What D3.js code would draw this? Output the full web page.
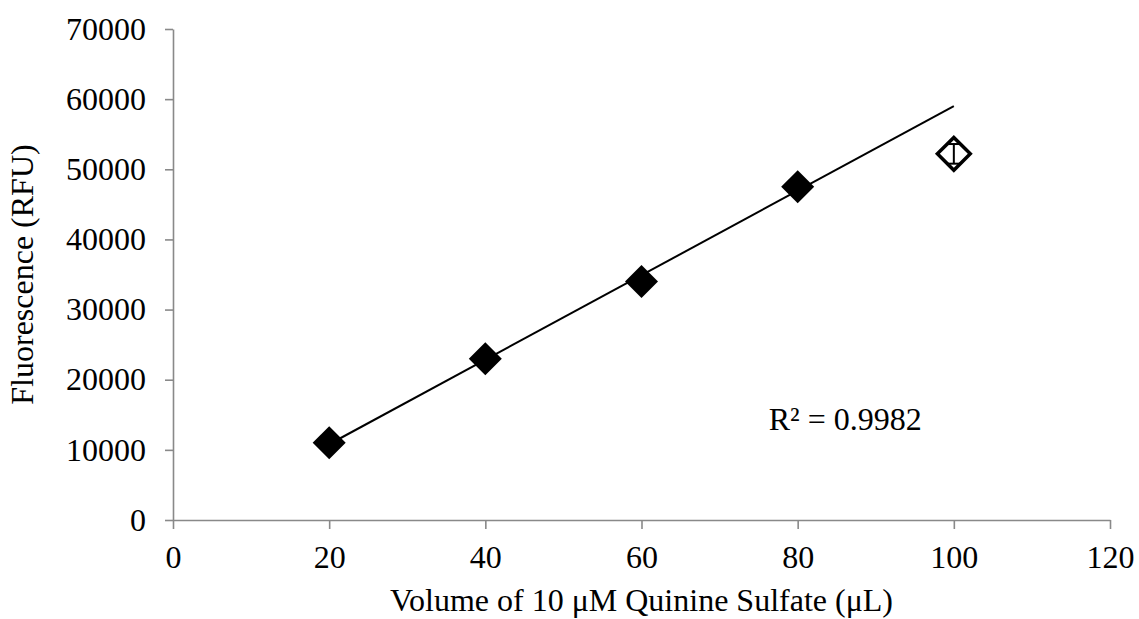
<!DOCTYPE html>
<html><head>
<meta charset="utf-8">
<script src="https://d3js.org/d3.v7.min.js"></script>
<style>
  body { margin: 0; background: #fff; }
  svg text { font-family: "Liberation Serif", "Times New Roman", serif; fill: #000; }
  .axis .domain, .axis line { stroke: #898989; stroke-width: 1.6; }
  .axis text { font-size: 32px; }
</style>
</head>
<body>
<svg id="chart" width="1139" height="619"></svg>
<script>
// volumes (uL) and fluorescence readings
const volumes = [20, 40, 60, 80];
const fluorescence = [11000, 23000, 34000, 47500];
// the excluded point at 100 uL, drawn open with an error bar
const outlierVolume = 100;
const outlierFluor = 52200;
const outlierErr = 1400;
const xTicks = [0, 20, 40, 60, 80, 100, 120];
const yTicks = [0, 10000, 20000, 30000, 40000, 50000, 60000, 70000];
const rSquaredLabel = "R² = 0.9982";

let svg = d3.select("svg#chart");
let margin = { top: 29, right: 29, bottom: 99, left: 173 };
let width = +svg.attr("width");
let height = +svg.attr("height");
let chartWidth = width - margin.left - margin.right;
let chartHeight = height - margin.top - margin.bottom;

const xScale = d3.scaleLinear().domain([0, 120]).range([0, chartWidth]);
const yScale = d3.scaleLinear().domain([0, 70000]).range([chartHeight, 0]);

// axes
let leftAxis = d3.axisLeft(yScale).tickValues(yTicks).tickFormat(d3.format("d"))
  .tickSize(8).tickSizeOuter(0).tickPadding(19);
svg.append("g").attr("class", "y axis")
  .attr("transform", "translate(" + margin.left + "," + margin.top + ")")
  .call(leftAxis);

let bottomAxis = d3.axisBottom(xScale).tickValues(xTicks).tickFormat(d3.format("d"))
  .tickSize(9).tickSizeOuter(0).tickPadding(16);
svg.append("g").attr("class", "x axis")
  .attr("transform", "translate(" + margin.left + "," + (margin.top + chartHeight) + ")")
  .call(bottomAxis);

let plot = svg.append("g").attr("transform", "translate(" + margin.left + "," + margin.top + ")");

// least squares trend line over the filled points, drawn 20 -> 100
const mx = d3.mean(volumes), my = d3.mean(fluorescence);
let sxy = 0, sxx = 0;
volumes.forEach((v, i) => { sxy += (v - mx) * (fluorescence[i] - my); sxx += (v - mx) * (v - mx); });
const slope = sxy / sxx;
const intercept = my - slope * mx;
const fitX = [20, 100];
plot.append("path")
  .attr("d", d3.line()(fitX.map(v => [xScale(v), yScale(intercept + slope * v)])))
  .attr("stroke", "#000").attr("stroke-width", 2).attr("fill", "none");

// diamonds: squares turned 45 degrees
const diamond = d3.symbol(d3.symbolSquare, 545);
volumes.forEach((v, i) => {
  plot.append("path")
    .attr("d", diamond())
    .attr("transform", "translate(" + xScale(v) + "," + yScale(fluorescence[i]) + ") rotate(45)")
    .attr("fill", "#000");
});

// open diamond with error bar
const ox = xScale(outlierVolume);
plot.append("path")
  .attr("d", d3.symbol(d3.symbolSquare, 540)())
  .attr("transform", "translate(" + ox + "," + yScale(outlierFluor) + ") rotate(45)")
  .attr("fill", "#fff").attr("stroke", "#000").attr("stroke-width", 3.5);
let eb = plot.append("g").attr("stroke", "#000").attr("stroke-width", 2);
eb.append("line").attr("x1", ox).attr("x2", ox)
  .attr("y1", yScale(outlierFluor + outlierErr)).attr("y2", yScale(outlierFluor - outlierErr));
[outlierFluor + outlierErr, outlierFluor - outlierErr].forEach(val => {
  eb.append("line").attr("x1", ox - 7).attr("x2", ox + 7)
    .attr("y1", yScale(val)).attr("y2", yScale(val));
});

// R squared label
plot.append("text")
  .attr("x", xScale(76.3)).attr("y", yScale(12900))
  .style("font-size", "32px")
  .text(rSquaredLabel);

// axis titles
svg.append("text")
  .attr("x", margin.left + chartWidth / 2).attr("y", 611)
  .attr("text-anchor", "middle").style("font-size", "32px")
  .text("Volume of 10 μM Quinine Sulfate (μL)");

svg.append("text")
  .attr("transform", "translate(33," + (margin.top + chartHeight / 2) + ") rotate(-90)")
  .attr("text-anchor", "middle").style("font-size", "32px")
  .text("Fluorescence (RFU)");
</script>
</body>
</html>
